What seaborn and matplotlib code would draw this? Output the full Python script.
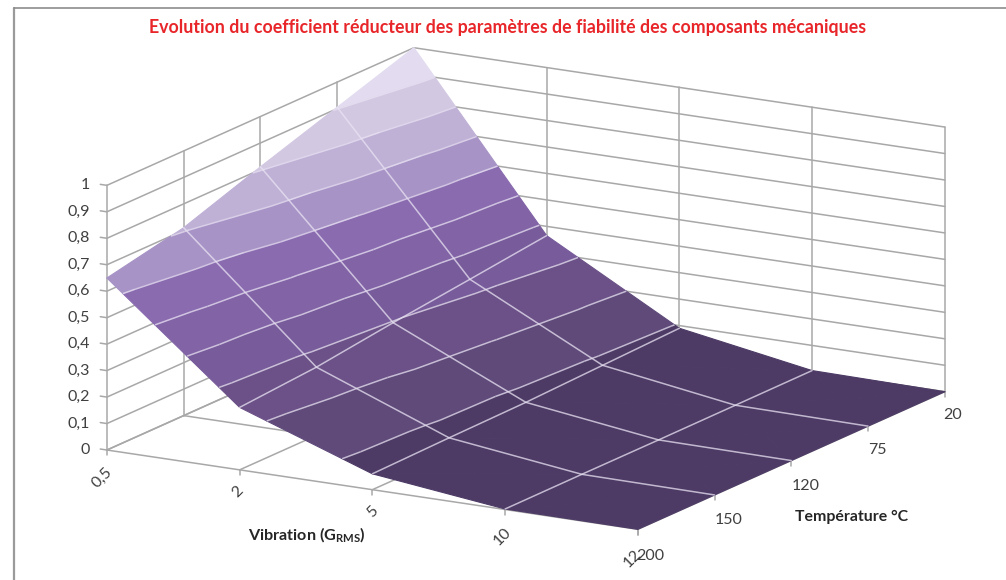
import numpy as np
import matplotlib
matplotlib.use('Agg')
import matplotlib.pyplot as plt
import seaborn as sns
from matplotlib.lines import Line2D
from mpl_toolkits.mplot3d import proj3d
from mpl_toolkits.mplot3d.art3d import Poly3DCollection, Line3DCollection

sns.set_theme(style="white")
plt.rcParams['font.family'] = ['Lato', 'DejaVu Sans']
plt.rcParams['mathtext.fontset'] = 'custom'
plt.rcParams['mathtext.rm'] = 'Lato:bold'

title = 'Evolution du coefficient réducteur des paramètres de fiabilité des composants mécaniques'
vib_labels = ['0,5', '2', '5', '10', '12']
temp_labels = ['20', '75', '120', '150', '200']
z_ticks = [0, 0.1, 0.2, 0.3, 0.4, 0.5, 0.6, 0.7, 0.8, 0.9, 1]
z_labels = ['0', '0,1', '0,2', '0,3', '0,4', '0,5', '0,6', '0,7', '0,8', '0,9', '1']

# one row per vibration level, columns follow temp_labels
coef_05 = [1.00, 0.905, 0.81, 0.71, 0.65]
coef_2 = [0.365, 0.33, 0.296, 0.258, 0.236]
coef_5 = [0.09, 0.08, 0.07, 0.066, 0.06]
coef_10 = [0.005, 0.004, 0.003, 0.003, 0.002]
coef_12 = [0.0, 0.0, 0.0, 0.0, 0.0]
coef = np.array([coef_05, coef_2, coef_5, coef_10, coef_12])

band_colors = sns.color_palette(['#4d3b66', '#5f4a7a', '#6b5187', '#775b9a', '#8163a6',
                                 '#8a6bb0', '#a793c6', '#bfb1d6', '#d3c8e2', '#e3dcf0'])

x = np.arange(len(vib_labels))
y = np.arange(len(temp_labels))[::-1]  # 20 deg at the back


def clip(poly, level, above):
    out = []
    for k in range(len(poly)):
        p, q = np.array(poly[k]), np.array(poly[(k + 1) % len(poly)])
        p_in = p[2] >= level if above else p[2] <= level
        q_in = q[2] >= level if above else q[2] <= level
        if p_in:
            out.append(p)
        if p_in != q_in:
            out.append(p + (q - p) * (level - p[2]) / (q[2] - p[2]))
    return out


# cut every cell in four triangles, then in bands
polys, poly_colors, segs = [], [], []
for i in range(len(x) - 1):
    for j in range(len(y) - 1):
        corners = [(x[i], y[j], coef[i, j]), (x[i + 1], y[j], coef[i + 1, j]),
                   (x[i + 1], y[j + 1], coef[i + 1, j + 1]), (x[i], y[j + 1], coef[i, j + 1])]
        mid = tuple(np.mean(corners, axis=0))
        for k in range(4):
            tri = [mid, corners[k], corners[(k + 1) % 4]]
            for b, col in enumerate(band_colors):
                lo, hi = z_ticks[b], z_ticks[b + 1]
                part = clip(tri, lo, True)
                if len(part) >= 3:
                    part = clip(part, hi, False)
                if len(part) >= 3:
                    polys.append(part)
                    poly_colors.append(col)
                if b > 0:
                    pts = [p for p in clip(tri, lo, True) if abs(p[2] - lo) < 1e-9]
                    if len(pts) == 2:
                        segs.append(pts)

fig = plt.figure(figsize=(10.06, 5.8), dpi=100)
# axes much bigger than the figure so nothing gets clipped, box centre lands on the chart
ax = fig.add_axes([-39 / 1006, -273.4 / 580, 1100 / 1006, 1100 / 580],
                  projection='3d', computed_zorder=False)
ax.set_proj_type('ortho')
ax.view_init(elev=15, azim=-60)
ax.set_box_aspect((613, 614, 274), zoom=0.803)
ax.set_xlim(0, 4)
ax.set_ylim(0, 4)
ax.set_zlim(0, 1)
ax.set_axis_off()

grid = dict(color='#a8a8a8', lw=1.1, zorder=1)
for z in z_ticks:
    ax.plot([-0.05, 0, 0], [0, 0, 4], [z, z, z], **grid)
    ax.plot([0, 4], [4, 4], [z, z], **grid)
for v in x:
    ax.plot([v, v], [4, 4], [0, 1], **grid)
    ax.plot([v, v], [0, 4], [0, 0], **grid)
    ax.plot([v, v], [0, 0], [0, -0.02], **grid)
for v in y:
    ax.plot([0, 0], [v, v], [0, 1], **grid)
    ax.plot([0, 4], [v, v], [0, 0], **grid)
    ax.plot([4, 4], [v, v], [0, -0.02], **grid)

surf = Poly3DCollection(polys, facecolors=poly_colors, edgecolors=poly_colors, linewidths=0.8, zorder=2)
ax.add_collection3d(surf)

white = '#e9e3f3'
ax.add_collection3d(Line3DCollection(segs, colors=white, linewidths=1.1, alpha=0.75, zorder=3))
for i in x[1:-1]:
    ax.plot([i] * len(y), y, coef[i, :], color=white, lw=1.1, alpha=0.75, zorder=3)
for j in range(1, len(y) - 1):
    ax.plot(x, [y[j]] * len(x), coef[:, j], color=white, lw=1.1, alpha=0.75, zorder=3)


def label(txt, px, py, pz, dx, dy, **kw):
    a, b, _ = proj3d.proj_transform(px, py, pz, ax.get_proj())
    ax.annotate(txt, xy=(a, b), xytext=(dx, dy), textcoords='offset pixels',
                annotation_clip=False, color='#404040', fontsize=11.5, va='center', **kw)


for z, t in zip(z_ticks, z_labels):
    label(t, 0, 0, z, -17, 0, ha='right')

vib_off = [(-5, -28), (-2, -22), (0, -22), (-3, -27), (-5, -29)]
for v, t, off in zip(x, vib_labels, vib_off):
    label(t, v, 0, 0, off[0], off[1], ha='center', rotation=45, rotation_mode='anchor')

temp_off = [(8, -23), (9, -24), (14, -25), (14, -25), (12, -27)]
for v, t, off in zip(y, temp_labels, temp_off):
    label(t, 4, v, 0, off[0], off[1], ha='center')

fig.text(508 / 1006, 1 - 27 / 580, title, color='#e8262a', fontsize=12.8, fontweight='bold',
         ha='center', va='center')
fig.text(307 / 1006, 1 - 535 / 580, 'Vibration (G$_{\\mathrm{RMS}}$)', color='#262626', fontsize=11.6,
         fontweight='bold', ha='center', va='center')
fig.text(852 / 1006, 1 - 517 / 580, 'Température °C', color='#262626', fontsize=11.4,
         fontweight='bold', ha='center', va='center')

# picture frame, only the left and top edges show
fig.add_artist(Line2D([14 / 1006, 14 / 1006], [0, 1 - 8 / 580], color='#9a9a9a', lw=1.6))
fig.add_artist(Line2D([14 / 1006, 1], [1 - 8 / 580, 1 - 8 / 580], color='#8c8c8c', lw=1.2))

fig.savefig('out.png', dpi=100)
